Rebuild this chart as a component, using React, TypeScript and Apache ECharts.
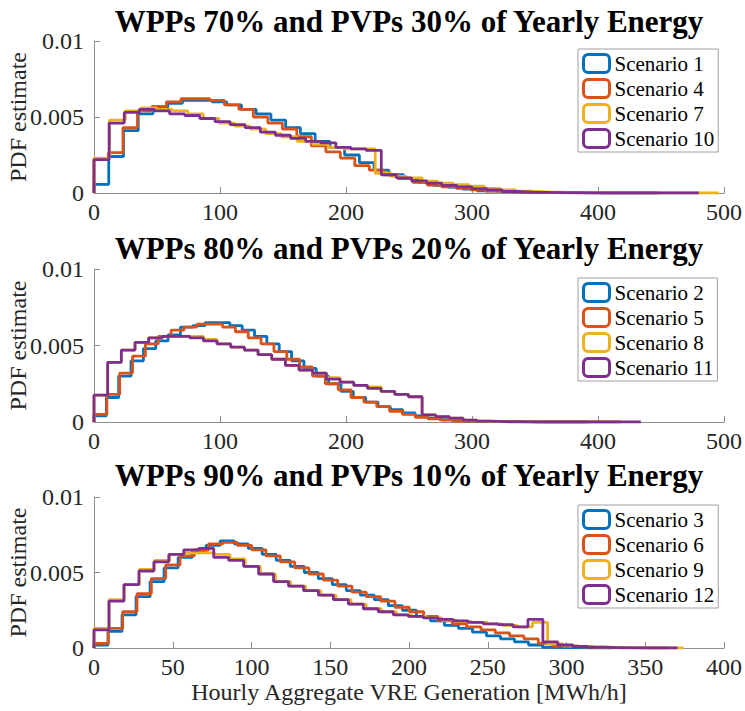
import React, { useEffect, useRef } from "react";
import * as echarts from "echarts";

const FONT = "Liberation Serif, Times New Roman, serif";
const COLORS = ["#0072BD", "#D95319", "#EDB120", "#7E2F8E"];

const panelTitles = [
  "WPPs 70% and PVPs 30% of Yearly Energy",
  "WPPs 80% and PVPs 20% of Yearly Energy",
  "WPPs 90% and PVPs 10% of Yearly Energy",
];
const panelXMax = [500, 500, 400];
const panelXInterval = [100, 100, 50];
const yMax = 0.01;
const yInterval = 0.005;
const yAxisName = "PDF estimate";
const xAxisName = "Hourly Aggregate VRE Generation [MWh/h]";

const panel1Names = ["Scenario 1", "Scenario 4", "Scenario 7", "Scenario 10"];
const panel2Names = ["Scenario 2", "Scenario 5", "Scenario 8", "Scenario 11"];
const panel3Names = ["Scenario 3", "Scenario 6", "Scenario 9", "Scenario 12"];

// bin widths (MWh/h) per scenario
const panel1BinWidths = [11.7, 11.5, 12.4, 12];
const panel2BinWidths = [9.8, 10.2, 10.85, 10.85];
const panel3BinWidths = [8.9, 9.1, 9.6, 9.5];

// PDF estimate per bin
const scenario1 = [0.00057, 0.0024, 0.0041, 0.0052, 0.0056, 0.0059, 0.0061, 0.0061, 0.006, 0.0058, 0.0055, 0.0052, 0.0048, 0.0043, 0.0039, 0.0034, 0.003, 0.0025, 0.002, 0.0015, 0.0012, 0.00095, 0.0007, 0.0005, 0.00038, 0.00025, 0.00014, 0.0001, 0.00006, 0.00004, 0.00002, 0.00002, 0.00001, 0.00001, 0, 0, 0.00001, 0];
const scenario4 = [0.0022, 0.00265, 0.0043, 0.0054, 0.0057, 0.006, 0.0062, 0.0062, 0.0061, 0.0058, 0.0055, 0.005, 0.0046, 0.0042, 0.0037, 0.0031, 0.0027, 0.0023, 0.0018, 0.0015, 0.0012, 0.00095, 0.0007, 0.00052, 0.0004, 0.0003, 0.0002, 0.00012, 0.00008, 0.00005, 0.00003, 0.00002, 0.00001, 0.00001, 0, 0, 0, 0.00001, 0];
const scenario7 = [0.0023, 0.0048, 0.0054, 0.0056, 0.0055, 0.0054, 0.0052, 0.0049, 0.0046, 0.0044, 0.0042, 0.0039, 0.0037, 0.0034, 0.0032, 0.003, 0.0029, 0.0029, 0.0013, 0.0011, 0.001, 0.00078, 0.00065, 0.00055, 0.00045, 0.0003, 0.0002, 0.00012, 0.00008, 0.00005, 0.00003, 0.00002, 0.00002, 0.00001, 0.00001, 0, 0.00001, 0, 0.00001, 0];
const scenario10 = [0.0022, 0.0046, 0.0053, 0.0055, 0.0054, 0.0052, 0.0051, 0.0049, 0.0047, 0.0045, 0.0043, 0.004, 0.0038, 0.0036, 0.0034, 0.0033, 0.003, 0.0029, 0.0028, 0.0012, 0.001, 0.0008, 0.00065, 0.0005, 0.0004, 0.00028, 0.0002, 0.0001, 0.00006, 0.00004, 0.00002, 0.00002, 0.00001, 0, 0.00001, 0, 0, 0.00001, 0, 0];

const scenario2 = [0.0004, 0.0016, 0.003, 0.004, 0.0048, 0.0053, 0.0057, 0.0062, 0.0063, 0.0065, 0.0065, 0.0063, 0.006, 0.0056, 0.0051, 0.0046, 0.004, 0.0035, 0.003, 0.0025, 0.002, 0.0016, 0.0013, 0.001, 0.0008, 0.0006, 0.0004, 0.00025, 0.00015, 0.0001, 0.00005, 0.00003, 0.00002, 0.00001, 0.00001, 0, 0, 0.00001, 0, 0];
const scenario5 = [0.0005, 0.0018, 0.0032, 0.0043, 0.0051, 0.0056, 0.006, 0.0062, 0.0064, 0.0064, 0.0062, 0.0059, 0.0055, 0.0051, 0.0046, 0.0041, 0.0036, 0.003, 0.0025, 0.0021, 0.0016, 0.0013, 0.001, 0.0007, 0.0005, 0.0003, 0.0002, 0.00012, 0.00006, 0.00004, 0.00002, 0.00002, 0.00001, 0.00001, 0, 0, 0.00001, 0, 0.00001, 0.00001, 0];
const scenario8 = [0.00176, 0.0039, 0.0047, 0.0052, 0.0055, 0.0056, 0.0056, 0.0056, 0.0054, 0.0051, 0.0049, 0.0047, 0.0044, 0.0041, 0.0037, 0.0034, 0.0032, 0.0029, 0.0026, 0.0024, 0.0023, 0.002, 0.0018, 0.00165, 0.00046, 0.00035, 0.00025, 0.00012, 0.00006, 0.00003, 0.00002, 0.00001, 0, 0.00001, 0, 0, 0, 0];
const scenario11 = [0.00176, 0.0039, 0.0047, 0.0052, 0.0055, 0.0056, 0.0056, 0.0055, 0.0053, 0.0051, 0.0049, 0.0047, 0.0044, 0.0041, 0.0037, 0.0034, 0.0032, 0.0028, 0.0026, 0.0024, 0.0022, 0.002, 0.0018, 0.00165, 0.00046, 0.00035, 0.00025, 0.00012, 0.00006, 0.00003, 0.00002, 0.00001, 0, 0.00001, 0, 0, 0, 0.00001, 0, 0];

const scenario3 = [0.0002, 0.0011, 0.0022, 0.0034, 0.0044, 0.0053, 0.006, 0.0064, 0.0068, 0.0071, 0.0069, 0.0066, 0.0062, 0.0058, 0.0054, 0.005, 0.0046, 0.0042, 0.0038, 0.0035, 0.0032, 0.0028, 0.0025, 0.0021, 0.0018, 0.0015, 0.0013, 0.00105, 0.0008, 0.0006, 0.0004, 0.0002, 0.00005, 0.00003, 0.00001, 0, 0];
const scenario6 = [0.0003, 0.0013, 0.0024, 0.0036, 0.0046, 0.0055, 0.0061, 0.0065, 0.0069, 0.007, 0.0068, 0.0065, 0.0061, 0.0057, 0.0053, 0.0049, 0.0045, 0.0041, 0.0037, 0.0034, 0.0031, 0.0027, 0.0024, 0.0021, 0.0018, 0.0016, 0.0014, 0.0012, 0.001, 0.0008, 0.0006, 0.0003, 0.00012, 0.00008, 0.00004, 0.00002, 0.00001, 0.00001, 0, 0];
const scenario9 = [0.0013, 0.0032, 0.0042, 0.0052, 0.0058, 0.0062, 0.0063, 0.0063, 0.0062, 0.0059, 0.0054, 0.0049, 0.0044, 0.0041, 0.0038, 0.0035, 0.0032, 0.0029, 0.0026, 0.0024, 0.0022, 0.0021, 0.002, 0.00185, 0.00175, 0.0017, 0.0016, 0.0015, 0.0014, 0.0017, 0.00027, 0.00015, 0.0001, 0.00005, 0.00003, 0.00002, 0.00001, 0.00001, 0];
const scenario12 = [0.0012, 0.0031, 0.0042, 0.0051, 0.0057, 0.0062, 0.0065, 0.0066, 0.006, 0.0058, 0.0054, 0.0049, 0.0044, 0.0041, 0.0038, 0.0035, 0.0032, 0.0029, 0.0026, 0.0024, 0.0022, 0.0021, 0.002, 0.0019, 0.0018, 0.0017, 0.0016, 0.00155, 0.0014, 0.0019, 0.0004, 0.0002, 0.0001, 0.00005, 0.00003, 0.00001, 0, 0.00001, 0];

const panelNames = [panel1Names, panel2Names, panel3Names];
const panelBinWidths = [panel1BinWidths, panel2BinWidths, panel3BinWidths];
const panelValues = [
  [scenario1, scenario4, scenario7, scenario10],
  [scenario2, scenario5, scenario8, scenario11],
  [scenario3, scenario6, scenario9, scenario12],
];

// layout
const GRID_LEFT = 94;
const GRID_WIDTH = 630;
const gridTops = [41, 269, 497];
const gridHeights = [152, 153, 151];
const titleY = [21, 248, 475];
const legendTops = [49, 278, 505];

function stairs(values: number[], width: number): number[][] {
  const pts: number[][] = [[0, 0]];
  values.forEach((v, i) => pts.push([i * width, v]));
  pts.push([values.length * width, 0]);
  return pts;
}

const fmtY = (v: number) => (v === 0 ? "0" : String(+v.toFixed(4)));

export default function App() {
  const ref = useRef<HTMLDivElement>(null);
  useEffect(() => {
    if (!ref.current) return;
    const chart = echarts.init(ref.current, undefined, { renderer: "svg" });
    const axisColor = "#8c8c8c";
    const grids = gridTops.map((t, i) => ({
      left: GRID_LEFT,
      top: t,
      width: GRID_WIDTH,
      height: gridHeights[i],
      containLabel: false,
      outerBoundsMode: "none",
    }));
    const xAxes = panelXMax.map((mx, i) => ({
      type: "value",
      gridIndex: i,
      min: 0,
      max: mx,
      interval: panelXInterval[i],
      axisLine: { show: true, onZero: false, lineStyle: { color: axisColor, width: 1 } },
      axisTick: { show: true, inside: true, length: 6, lineStyle: { color: axisColor } },
      splitLine: { show: false },
      axisLabel: { fontFamily: FONT, fontSize: 24, color: "#262626", margin: 7 },
      name: i === 2 ? xAxisName : "",
      nameLocation: "middle",
      nameGap: 32,
      nameMoveOverlap: false,
      nameTextStyle: { fontFamily: FONT, fontSize: 24, color: "#262626" },
    }));
    const yAxes = gridTops.map((_, i) => ({
      type: "value",
      gridIndex: i,
      min: 0,
      max: yMax,
      interval: yInterval,
      axisLine: { show: true, onZero: false, lineStyle: { color: axisColor, width: 1 } },
      axisTick: { show: true, inside: true, length: 6, lineStyle: { color: axisColor } },
      splitLine: { show: false },
      axisLabel: { fontFamily: FONT, fontSize: 24, color: "#262626", margin: 10, formatter: fmtY },
      name: yAxisName,
      nameLocation: "middle",
      nameGap: 64,
      nameMoveOverlap: false,
      nameTextStyle: { fontFamily: FONT, fontSize: 24, color: "#262626" },
    }));
    const series: any[] = [];
    panelValues.forEach((vals, p) => {
      vals.forEach((v, k) => {
        series.push({
          type: "line",
          name: panelNames[p][k],
          xAxisIndex: p,
          yAxisIndex: p,
          step: "end",
          showSymbol: false,
          symbol: "none",
          data: stairs(v, panelBinWidths[p][k]),
          lineStyle: { color: COLORS[k], width: 2.8 },
          itemStyle: { color: COLORS[k] },
          z: 2 + k,
        });
      });
    });
    const legends = panelNames.map((names, p) => ({
      orient: "vertical",
      left: 578,
      top: legendTops[p],
      padding: [4, 4, 3, 4],
      itemGap: 4,
      itemWidth: 26,
      itemHeight: 18,
      itemTextGap: 3,
      backgroundColor: "#ffffff",
      borderColor: "#a0a0a0",
      borderWidth: 1,
      selectedMode: false,
      textStyle: { fontFamily: FONT, fontSize: 21, color: "#000", lineHeight: 20 },
      data: names.map((n, k) => ({
        name: n,
        icon: "roundRect",
        itemStyle: { color: "#ffffff", borderColor: COLORS[k], borderWidth: 3 },
      })),
    }));
    const graphics = panelTitles.map((t, i) => ({
      type: "text",
      x: GRID_LEFT + GRID_WIDTH / 2,
      y: titleY[i],
      style: {
        text: t,
        fill: "#000",
        fontFamily: FONT,
        fontWeight: "bold",
        fontSize: 31,
        textAlign: "center",
        textVerticalAlign: "middle",
      },
    }));
    chart.setOption({
      animation: false,
      backgroundColor: "#ffffff",
      grid: grids,
      xAxis: xAxes,
      yAxis: yAxes,
      legend: legends,
      series,
      graphic: graphics,
    });
    return () => chart.dispose();
  }, []);
  return (
    <div
      ref={ref}
      style={{ position: "fixed", left: 0, top: 0, width: 745, height: 711 }}
    />
  );
}
